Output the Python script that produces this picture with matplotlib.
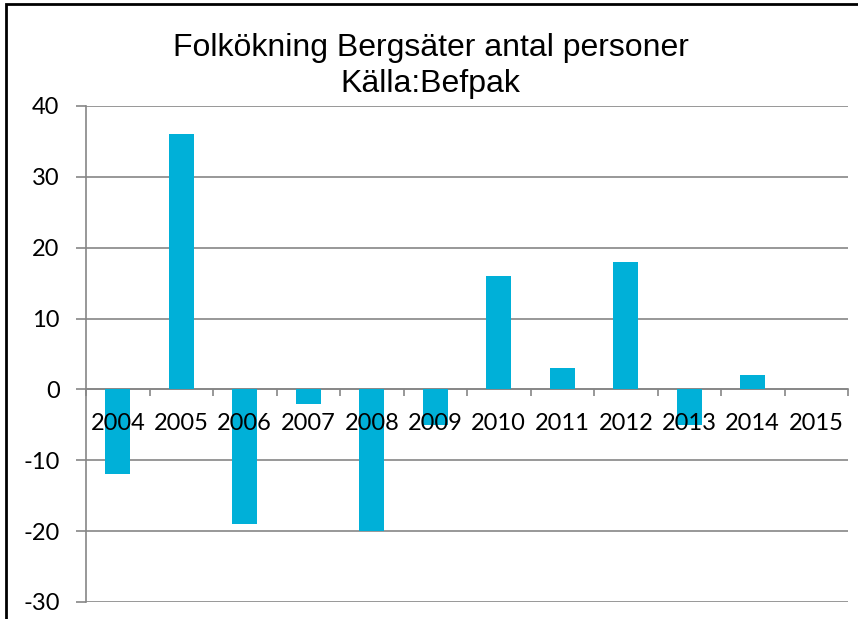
import matplotlib.pyplot as plt
from matplotlib.patches import Rectangle
from matplotlib.ticker import FixedLocator

years = ["2004", "2005", "2006", "2007", "2008", "2009",
         "2010", "2011", "2012", "2013", "2014", "2015"]
change = [-12, 36, -19, -2, -20, -5, 16, 3, 18, -5, 2, 0]
yticks = [-30, -20, -10, 0, 10, 20, 30, 40]

grey = "#868686"
bar_col = "#00B0D8"

fig = plt.figure(figsize=(8.58, 6.19), dpi=100)
ax = fig.add_axes([86 / 858, 1 - 602 / 619, (848 - 86) / 858, (602 - 106) / 619])

x = list(range(len(years)))
ax.bar(x, change, width=0.4, color=bar_col, zorder=3)

ax.set_xlim(-0.5, len(years) - 0.5)
ax.set_ylim(-30, 40)
ax.set_yticks(yticks)
ax.set_yticklabels([str(v) for v in yticks], fontsize=17, family="Lato")
ax.grid(axis="y", color=grey, linewidth=1.2)
ax.set_axisbelow(True)

for s in ["top", "right"]:
    ax.spines[s].set_visible(False)
ax.spines["left"].set_color(grey)
ax.spines["left"].set_linewidth(1.2)
ax.spines["bottom"].set_position(("data", 0))
ax.spines["bottom"].set_color(grey)
ax.spines["bottom"].set_linewidth(1.2)

ax.tick_params(axis="y", length=7, width=1.2, color=grey, pad=12)
ax.set_xticks([])
ax.xaxis.set_minor_locator(FixedLocator([i + 0.5 for i in range(-1, len(years))]))
ax.tick_params(axis="x", which="minor", length=5, width=1.2, color=grey)

# category labels drawn on top of the bars, as in the original
for xi, lab in zip(x, years):
    ax.text(xi, -4.8, lab, ha="center", va="center", fontsize=17,
            family="Lato", zorder=5)

fig.text(0.502, 0.922, "Folkökning Bergsäter antal personer", ha="center", va="center",
         fontsize=23, family="Liberation Sans")
fig.text(0.502, 0.864, "Källa:Befpak", ha="center", va="center",
         fontsize=23, family="Liberation Sans")

fig.patches.append(Rectangle((6 / 858, -0.1), 1.2, 1.1 - 4 / 619, transform=fig.transFigure,
                             fill=False, edgecolor="black", linewidth=2))

fig.savefig("out.png", dpi=100)
